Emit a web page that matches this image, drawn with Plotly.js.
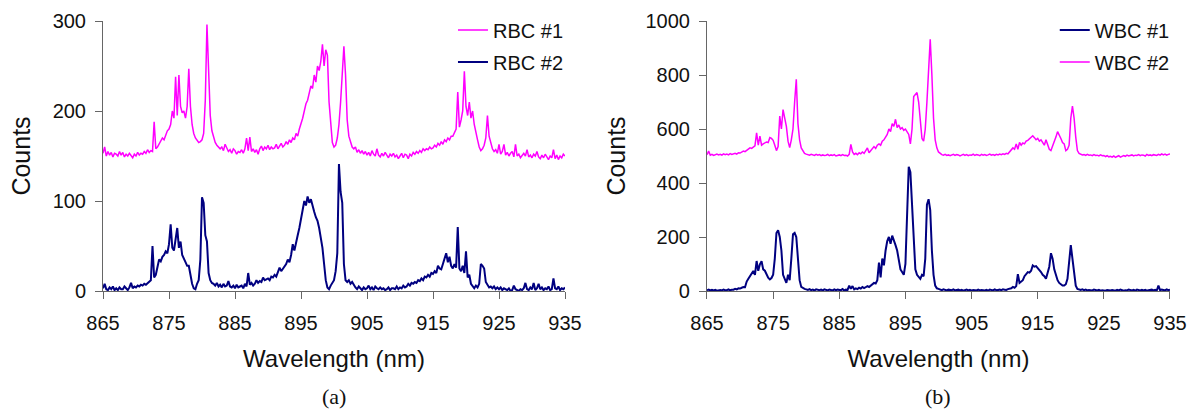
<!DOCTYPE html>
<html>
<head>
<meta charset="utf-8">
<script src="https://cdn.plot.ly/plotly-3.0.1.min.js"></script>
<style>html,body{margin:0;padding:0;background:#fff;}#chart{width:1193px;height:414px;}</style>
</head>
<body>
<div id="chart"></div>
<script>
// Wavelength grid (nm), 0.25 nm steps read along the axis
const wavelength = [
865,865.25,865.5,865.75,866,866.25,866.5,866.75,867,867.25,867.5,867.75,868,868.25,868.5,868.75,869,869.25,869.5,869.75,
870,870.25,870.5,870.75,871,871.25,871.5,871.75,872,872.25,872.5,872.75,873,873.25,873.5,873.75,874,874.25,874.5,874.75,
875,875.25,875.5,875.75,876,876.25,876.5,876.75,877,877.25,877.5,877.75,878,878.25,878.5,878.75,879,879.25,879.5,879.75,
880,880.25,880.5,880.75,881,881.25,881.5,881.75,882,882.25,882.5,882.75,883,883.25,883.5,883.75,884,884.25,884.5,884.75,
885,885.25,885.5,885.75,886,886.25,886.5,886.75,887,887.25,887.5,887.75,888,888.25,888.5,888.75,889,889.25,889.5,889.75,
890,890.25,890.5,890.75,891,891.25,891.5,891.75,892,892.25,892.5,892.75,893,893.25,893.5,893.75,894,894.25,894.5,894.75,
895,895.25,895.5,895.75,896,896.25,896.5,896.75,897,897.25,897.5,897.75,898,898.25,898.5,898.75,899,899.25,899.5,899.75,
900,900.25,900.5,900.75,901,901.25,901.5,901.75,902,902.25,902.5,902.75,903,903.25,903.5,903.75,904,904.25,904.5,904.75,
905,905.25,905.5,905.75,906,906.25,906.5,906.75,907,907.25,907.5,907.75,908,908.25,908.5,908.75,909,909.25,909.5,909.75,
910,910.25,910.5,910.75,911,911.25,911.5,911.75,912,912.25,912.5,912.75,913,913.25,913.5,913.75,914,914.25,914.5,914.75,
915,915.25,915.5,915.75,916,916.25,916.5,916.75,917,917.25,917.5,917.75,918,918.25,918.5,918.75,919,919.25,919.5,919.75,
920,920.25,920.5,920.75,921,921.25,921.5,921.75,922,922.25,922.5,922.75,923,923.25,923.5,923.75,924,924.25,924.5,924.75,
925,925.25,925.5,925.75,926,926.25,926.5,926.75,927,927.25,927.5,927.75,928,928.25,928.5,928.75,929,929.25,929.5,929.75,
930,930.25,930.5,930.75,931,931.25,931.5,931.75,932,932.25,932.5,932.75,933,933.25,933.5,933.75,934,934.25,934.5,934.75,
935
];

// (a) RBC spectra (counts)
const rbc1 = [
153,160,150,155, 151,154,149,153, 152,150,155,151, 154,149,152,150, 153,151,148,152,
150,154,151,153, 152,155,153,157, 154,156,155,188, 158,160,163,166, 170,168,174,178,
180,185,200,192, 238,195,240,205, 198,200,192,205, 247,205,185,175, 170,168,165,166,
168,175,212,296, 240,195,178,170, 165,162,160,158, 160,156,163,158, 155,157,153,158,
156,152,155,154, 157,153,158,170, 156,171,155,158, 154,157,152,158, 161,156,160,158,
162,157,160,158, 159,163,158,161, 164,160,162,166, 163,168,165,170, 168,175,172,180,
185,192,200,208, 212,220,228,225, 240,232,250,245, 255,274,250,268, 262,210,190,165,
160,162,170,185, 210,250,272,240, 190,172,165,160, 158,160,154,157, 153,156,152,155,
151,154,150,156, 152,150,158,151, 149,153,150,154, 151,148,152,150, 153,149,151,147,
150,153,148,152, 151,147,152,150, 154,152,155,153, 156,154,158,156, 158,157,160,158,
159,162,160,164, 162,166,163,168, 166,170,168,172, 172,176,180,221, 182,190,200,244,
205,195,210,192, 200,185,175,168, 160,156,158,162, 170,195,172,163, 158,155,157,153,
163,152,155,163, 151,154,150,153, 155,149,163,150, 152,148,151,153, 150,157,149,151,
148,152,150,155, 149,147,151,148, 152,149,146,150, 148,157,147,151, 146,150,148,152,
150
];
const rbc2 = [
3,8,2,1, 4,2,5,1, 3,1,4,2, 2,5,3,1, 4,9,3,5,
4,6,5,7, 6,8,7,9, 10,12,50,15, 18,28,35,33, 38,40,44,42,
52,74,48,45, 60,70,48,55, 40,35,32,28, 28,18,8,3, 2,8,12,35,
104,98,62,55, 20,12,9,8, 6,9,5,7, 4,8,5,6, 11,5,4,6,
3,7,4,5, 6,3,8,5, 20,7,9,6, 8,12,9,11, 10,15,12,13,
14,12,16,15, 18,16,20,26, 22,25,28,30, 35,32,40,52, 45,55,62,70,
82,90,100,95, 105,98,102,94, 88,82,78,70, 60,48,30,12, 4,2,6,10,
12,22,42,141, 110,98,30,12, 10,12,8,10, 6,4,2,5, 3,1,4,2,
3,6,2,4, 1,5,3,2, 4,2,3,1, 2,4,1,3, 3,2,5,2,
4,3,6,4, 5,8,6,9, 8,10,9,12, 11,14,12,16, 15,18,16,20,
19,22,20,28, 25,24,30,35, 42,32,38,28, 25,30,26,71, 25,22,28,20,
44,15,18,8, 5,3,6,4, 8,30,28,25, 10,6,4,5, 3,5,2,4,
2,4,1,3, 2,1,3,0, 1,6,2,1, 0,2,1,3, 9,2,1,4,
2,9,1,3, 8,2,4,1, 3,2,5,1, 2,14,3,2, 5,1,3,2,
4
];

// (b) WBC spectra (counts)
const wbc1 = [
3,5,2,4, 2,4,1,3, 4,2,5,3, 3,6,2,5, 5,8,6,10,
9,12,15,14, 35,45,55,60, 74,60,111,75, 99,110,80,75, 60,49,43,48,
60,120,215,225, 200,150,60,45, 30,60,40,120, 210,215,200,120, 40,15,10,8,
6,4,7,3, 5,2,6,4, 3,5,2,6, 4,2,5,3, 2,6,3,5,
4,3,7,2, 5,4,20,8, 18,6,10,7, 12,9,15,11, 14,18,15,20,
22,30,28,40, 105,50,120,95, 150,185,200,175, 205,190,170,150, 120,80,70,60,
100,300,460,440, 320,150,80,60, 50,45,60,55, 120,320,340,300, 150,60,20,10,
8,5,3,6, 4,2,5,3, 3,6,2,4, 5,2,4,1, 3,5,2,4,
1,4,3,2, 5,2,4,3, 2,4,1,5, 3,2,6,3, 4,5,3,6,
5,4,7,8, 10,15,12,18, 62,30,35,40, 55,62,70,68, 75,95,90,92,
85,80,70,60, 55,45,70,90, 140,120,80,60, 40,30,25,20, 20,25,45,100,
170,120,60,20, 8,5,4,6, 3,5,2,4, 4,2,5,3, 2,4,1,3,
3,1,4,2, 2,4,3,1, 4,2,5,3, 1,3,2,5, 3,2,4,1,
5,3,2,4, 2,4,1,3, 3,5,2,4, 2,20,3,5, 4,2,6,3,
5
];
const wbc2 = [
505,518,503,506, 502,505,507,504, 506,503,508,505, 507,504,509,506, 508,510,507,512,
511,514,518,516, 520,524,530,528, 535,538,586,540, 574,540,545,548, 552,550,568,565,
558,540,520,535, 648,600,672,640, 610,555,531,560, 600,700,784,620, 560,530,518,510,
507,505,503,506, 504,502,506,503, 505,501,504,502, 503,506,501,504, 502,505,500,503,
504,501,505,502, 503,500,506,543, 515,506,510,505, 512,508,515,510, 518,530,512,520,
525,535,528,540, 545,540,555,560, 570,580,600,590, 620,610,636,605, 615,600,605,595,
600,592,580,545, 600,720,728,735, 700,620,565,555, 600,700,800,932, 800,640,560,530,
515,508,505,503, 506,502,504,501, 503,506,502,505, 504,500,503,506, 502,505,501,504,
503,507,502,505, 504,501,506,503, 505,502,504,507, 503,505,502,506, 504,507,505,508,
506,510,508,515, 520,530,525,545, 525,550,540,548, 545,555,558,565, 570,575,568,560,
565,555,560,550, 540,560,545,525, 520,535,550,570, 590,580,565,550, 545,520,525,540,
640,685,640,570, 520,510,506,504, 505,502,506,503, 504,501,505,502, 503,500,504,501,
502,498,501,497, 499,496,500,495, 498,501,496,500, 502,499,503,500, 501,504,500,503,
502,505,501,504, 503,500,506,502, 504,501,505,503, 502,506,503,508, 504,507,503,506,
508
];

const xTicks = [865, 875, 885, 895, 905, 915, 925, 935];
const yTicksA = [0, 100, 200, 300];
const yTicksB = [0, 200, 400, 600, 800, 1000];

const MAGENTA = '#FF00FF';
const NAVY = '#000080';
const SANS = 'Liberation Sans, Arial, sans-serif';

const traces = [
  {x: wavelength, y: rbc1, name: 'RBC #1', type: 'scatter', mode: 'lines',
   line: {color: MAGENTA, width: 1.5}, xaxis: 'x', yaxis: 'y', legend: 'legend', legendgroup: 'a1'},
  {x: wavelength, y: rbc2, name: 'RBC #2', type: 'scatter', mode: 'lines',
   line: {color: NAVY, width: 2}, xaxis: 'x', yaxis: 'y', legend: 'legend', legendgroup: 'a2'},
  {x: wavelength, y: wbc1, name: 'WBC #1', type: 'scatter', mode: 'lines',
   line: {color: NAVY, width: 2}, xaxis: 'x2', yaxis: 'y2', legend: 'legend2', legendgroup: 'b1'},
  {x: wavelength, y: wbc2, name: 'WBC #2', type: 'scatter', mode: 'lines',
   line: {color: MAGENTA, width: 1.5}, xaxis: 'x2', yaxis: 'y2', legend: 'legend2', legendgroup: 'b2'}
];

const axisCommon = {
  showline: true, linecolor: '#666', linewidth: 1,
  ticks: 'outside', ticklen: 7, tickcolor: '#666', tickwidth: 1,
  showgrid: false, zeroline: false,
  tickfont: {family: SANS, size: 20, color: '#111'}
};

const xCommon = Object.assign({}, axisCommon, {
  range: [865, 935], tickvals: xTicks, ticktext: xTicks.map(String),
  ticklabelstandoff: 7,
  title: {text: 'Wavelength (nm)', font: {family: SANS, size: 24, color: '#111'}, standoff: 17}
});

const layout = {
  width: 1193, height: 414,
  margin: {l: 103, r: 23, t: 20, b: 123},
  paper_bgcolor: '#fff', plot_bgcolor: '#fff',
  showlegend: true,
  xaxis: Object.assign({}, xCommon, {domain: [0, 0.43299], anchor: 'y'}),
  xaxis2: Object.assign({}, xCommon, {domain: [0.56607, 1], anchor: 'y2'}),
  yaxis: Object.assign({}, axisCommon, {
    domain: [0, 1], anchor: 'x', range: [0, 300], tickvals: yTicksA, ticktext: yTicksA.map(String),
    ticklabelstandoff: 5,
    title: {text: 'Counts', font: {family: SANS, size: 25, color: '#111'}, standoff: 14}
  }),
  yaxis2: Object.assign({}, axisCommon, {
    domain: [0, 1], anchor: 'x2', range: [0, 1000], tickvals: yTicksB, ticktext: yTicksB.map(String),
    ticklabelstandoff: 5,
    title: {text: 'Counts', font: {family: SANS, size: 25, color: '#111'}, standoff: 12}
  }),
  legend: {
    x: 0.3280, y: 1.035, xanchor: 'left', yanchor: 'top',
    bgcolor: 'rgba(0,0,0,0)', borderwidth: 0, traceorder: 'grouped', tracegroupgap: 3,
    font: {family: SANS, size: 20, color: '#111'}
  },
  legend2: {
    x: 0.8920, y: 1.035, xanchor: 'left', yanchor: 'top',
    bgcolor: 'rgba(0,0,0,0)', borderwidth: 0, traceorder: 'grouped', tracegroupgap: 3,
    font: {family: SANS, size: 20, color: '#111'}
  },
  annotations: [
    {text: '(a)', xref: 'x domain', yref: 'paper', x: 0.5, y: -0.391, xanchor: 'center', yanchor: 'middle',
     showarrow: false, font: {family: 'Liberation Serif, Times New Roman, serif', size: 22, color: '#111'}},
    {text: '(b)', xref: 'x2 domain', yref: 'paper', x: 0.5, y: -0.391, xanchor: 'center', yanchor: 'middle',
     showarrow: false, font: {family: 'Liberation Serif, Times New Roman, serif', size: 22, color: '#111'}}
  ]
};

Plotly.newPlot('chart', traces, layout, {displayModeBar: false, staticPlot: true});
</script>
</body>
</html>
